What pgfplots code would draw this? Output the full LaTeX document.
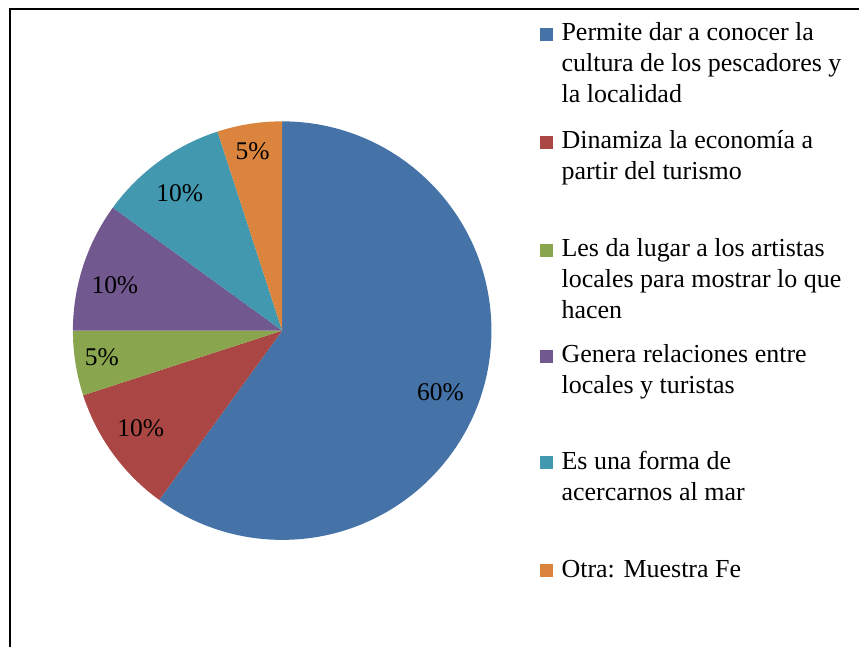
\documentclass[border=0pt]{standalone}
\usepackage{fontspec}
\setmainfont{Liberation Serif}
\usepackage{pgfplots}
\pgfplotsset{compat=1.18}

\definecolor{sblue}{HTML}{4572A7}
\definecolor{sred}{HTML}{AA4643}
\definecolor{sgreen}{HTML}{89A54E}
\definecolor{spurple}{HTML}{71588F}
\definecolor{steal}{HTML}{4198AF}
\definecolor{sorange}{HTML}{DB843D}

% slice: #1 = cumulative share before it (%), #2 = share (%), #3 = colour
\newcommand{\slice}[3]{%
  \fill[#3] (axis cs:282.5,317) -- ++({90-3.6*#1}:209.5bp)
    arc[start angle={90-3.6*#1}, end angle={90-3.6*(#1+#2)}, radius=209.5bp] -- cycle;}
% one legend line, y given in pixels from the top
\newcommand{\legline}[2]{%
  \node[anchor=base west, inner sep=0pt, font=\fontsize{26bp}{31bp}\selectfont]
    at (axis cs:562,{648-#1}) {#2};}
\newcommand{\legbox}[2]{%
  \fill[#2] (axis cs:541,{648-#1}) rectangle (axis cs:554,{648-#1+13});}
\newcommand{\plabel}[3]{%
  \node[anchor=base, inner sep=0pt, font=\fontsize{25.5bp}{30bp}\selectfont]
    at (axis cs:#1,{648-#2}) {#3};}

\begin{document}
\begin{tikzpicture}
\begin{axis}[
  x=1bp, y=1bp,
  xmin=0, xmax=860, ymin=0, ymax=648,
  hide axis,
  clip=false,
]
% page area and frame
\path (axis cs:0,0) rectangle (axis cs:860,648);
\draw[line width=2bp, black] (axis cs:10,0) -- (axis cs:10,638.5) -- (axis cs:860,638.5);

% pie: 60, 10, 5, 10, 10, 5 (%), clockwise from the top
\slice{0}{60}{sblue}
\slice{60}{10}{sred}
\slice{70}{5}{sgreen}
\slice{75}{10}{spurple}
\slice{85}{10}{steal}
\slice{95}{5}{sorange}

\plabel{441}{401}{60\%}
\plabel{141}{437}{10\%}
\plabel{102}{366}{5\%}
\plabel{115}{294}{10\%}
\plabel{180}{202}{10\%}
\plabel{253}{160}{5\%}

% legend
\legbox{41}{sblue}
\legline{41}{Permite dar a conocer la}
\legline{72}{cultura de los pescadores y}
\legline{103}{la localidad}
\legbox{149}{sred}
\legline{149}{Dinamiza la economía a}
\legline{180}{partir del turismo}
\legbox{257}{sgreen}
\legline{257}{Les da lugar a los artistas}
\legline{288}{locales para mostrar lo que}
\legline{319}{hacen}
\legbox{363}{spurple}
\legline{363}{Genera relaciones entre}
\legline{394}{locales y turistas}
\legbox{470}{steal}
\legline{470}{Es una forma de}
\legline{501}{acercarnos al mar}
\legbox{578}{sorange}
\legline{578}{Otra: Muestra Fe}
\end{axis}
\end{tikzpicture}
\end{document}
